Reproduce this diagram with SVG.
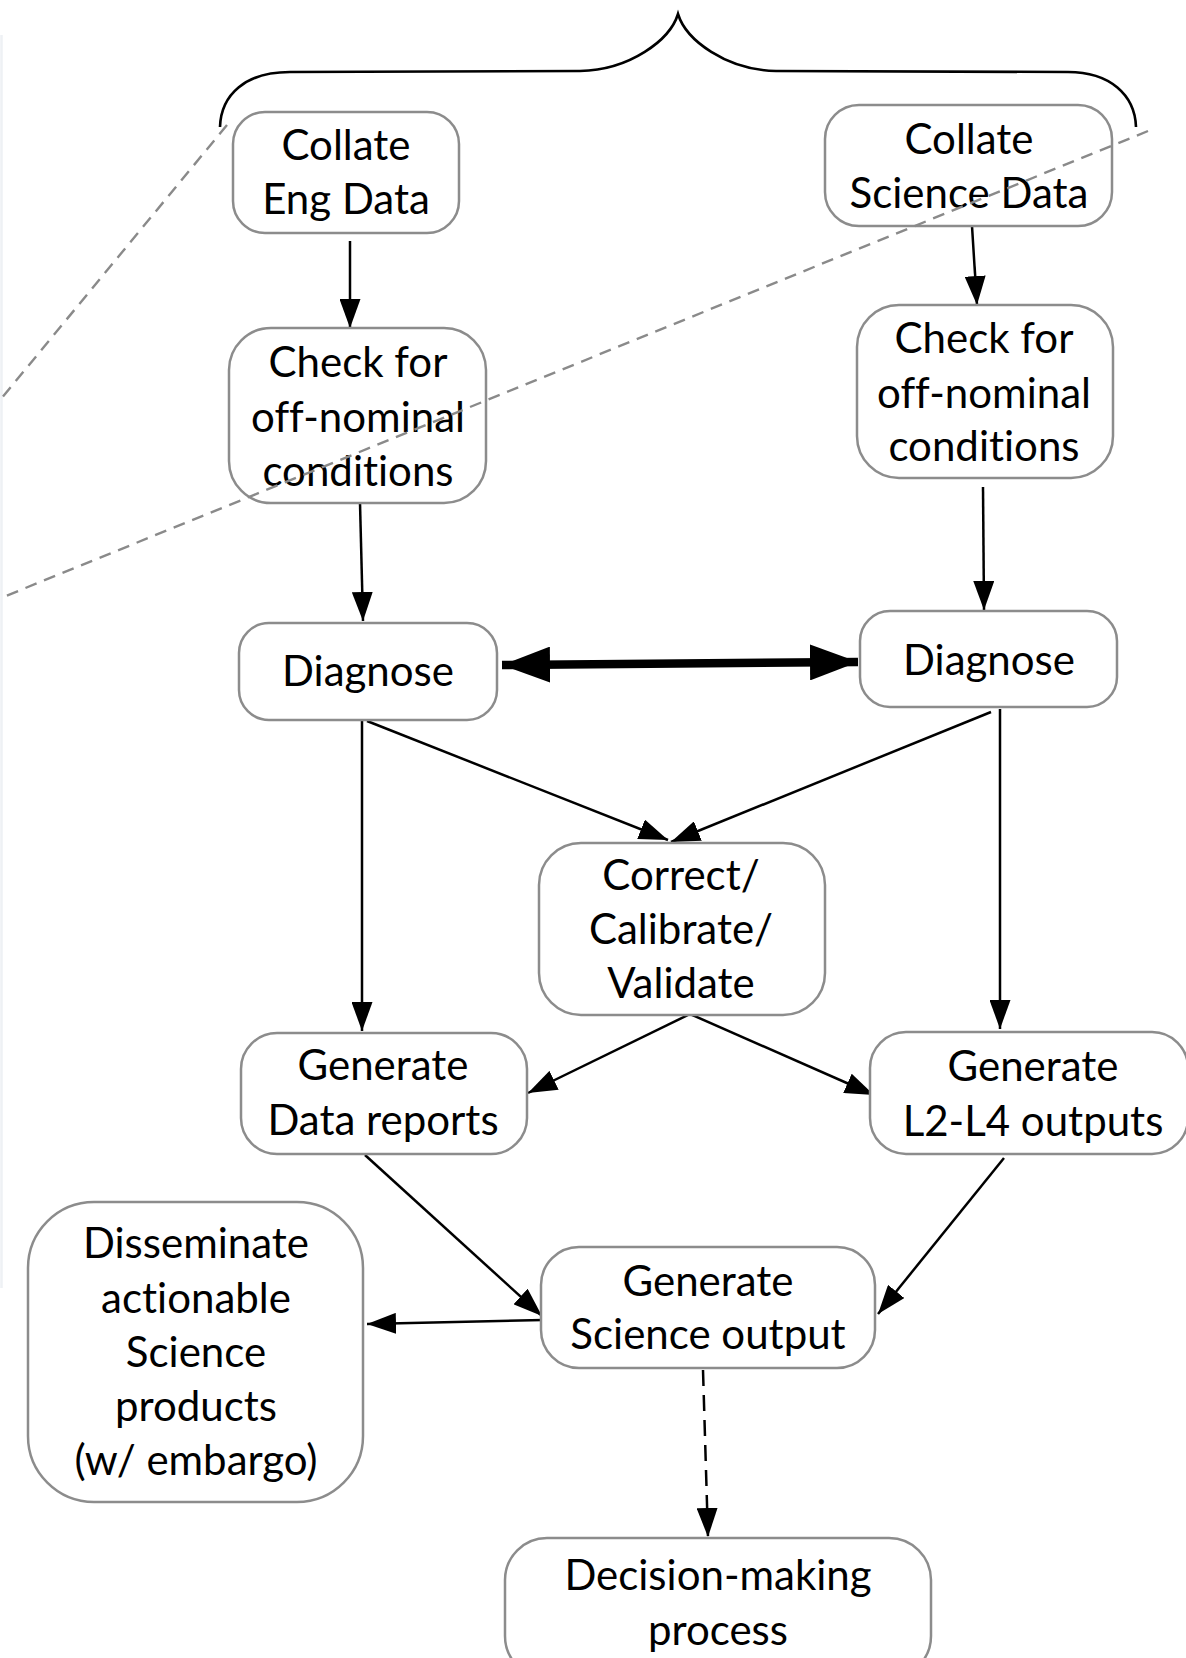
<svg xmlns="http://www.w3.org/2000/svg" width="1186" height="1658" viewBox="0 0 1186 1658">
  <style>
    .box { fill: #ffffff; stroke: #8c8c8c; stroke-width: 2.5; }
    .lbl { font-family: Lato, "Open Sans", "Liberation Sans", sans-serif; font-size: 42px; fill: #000000; text-anchor: middle; font-variant-ligatures: none; font-feature-settings: "liga" 0, "clig" 0; }
    .edge { fill: none; stroke: #000000; stroke-width: 2.5; }
    .edge-dash { fill: none; stroke: #000000; stroke-width: 2.5; stroke-dasharray: 16 9; }
    .thick { fill: none; stroke: #000000; stroke-width: 8.5; }
    .guide { fill: none; stroke: #8a8a8a; stroke-width: 2.4; stroke-dasharray: 12 8; }
    .brace { fill: none; stroke: #000000; stroke-width: 2.6; }
  </style>
  <defs>
    <marker id="head" viewBox="0 0 29 21" refX="29" refY="10.5" markerWidth="29" markerHeight="21" markerUnits="userSpaceOnUse" orient="auto">
      <path d="M0,0 L29,10.5 L0,21 z" fill="#000000"/>
    </marker>
    <marker id="bighead" viewBox="0 0 48 36" refX="48" refY="18" markerWidth="48" markerHeight="36" markerUnits="userSpaceOnUse" orient="auto-start-reverse">
      <path d="M0,0 L48,18 L0,36 z" fill="#000000"/>
    </marker>
  </defs>

  <rect width="1186" height="1658" fill="#ffffff"/>
  <!-- faint frame edge on the left -->
  <line x1="1.5" y1="35" x2="1.5" y2="1288" stroke="#eef1f4" stroke-width="2.5"/>

  <!-- curly brace grouping the two collate steps -->
  <path class="brace" d="M220,127 C221,95 245,72 290,72 L580,71 C630,70 670,40 678,14 C686,40 726,70 776,71 L1068,72 C1110,72 1135,95 1136,127"/>

  <!-- connectors -->
  <g id="connectors">
    <line class="edge" x1="350" y1="241" x2="350" y2="328" marker-end="url(#head)"/>
    <line class="edge" x1="972" y1="226" x2="977" y2="305" marker-end="url(#head)"/>
    <line class="edge" x1="360" y1="503" x2="363" y2="621" marker-end="url(#head)"/>
    <line class="edge" x1="983" y1="487" x2="984" y2="610" marker-end="url(#head)"/>
    <line class="thick" x1="502" y1="665" x2="858" y2="662" marker-start="url(#bighead)" marker-end="url(#bighead)"/>
    <line class="edge" x1="367" y1="721" x2="668" y2="840" marker-end="url(#head)"/>
    <line class="edge" x1="991" y1="712" x2="671" y2="842" marker-end="url(#head)"/>
    <line class="edge" x1="362" y1="721" x2="362" y2="1031" marker-end="url(#head)"/>
    <line class="edge" x1="1000" y1="709" x2="1000" y2="1029" marker-end="url(#head)"/>
    <line class="edge" x1="690" y1="1014" x2="528" y2="1093" marker-end="url(#head)"/>
    <line class="edge" x1="690" y1="1014" x2="874" y2="1095" marker-end="url(#head)"/>
    <line class="edge" x1="365" y1="1155" x2="542" y2="1316" marker-end="url(#head)"/>
    <line class="edge" x1="1004" y1="1158" x2="878" y2="1314" marker-end="url(#head)"/>
    <line class="edge" x1="543" y1="1320" x2="367" y2="1324" marker-end="url(#head)"/>
    <line class="edge-dash" x1="703" y1="1370" x2="708" y2="1537" marker-end="url(#head)"/>
  </g>

  <!-- nodes -->
  <g id="collate-eng">
    <rect class="box" x="233" y="112" width="226" height="121" rx="32"/>
    <text class="lbl" x="346" y="160">Collate</text>
    <text class="lbl" x="346" y="214">Eng Data</text>
  </g>
  <g id="collate-sci">
    <rect class="box" x="825" y="105" width="287" height="121" rx="34"/>
    <text class="lbl" x="969" y="154">Collate</text>
    <text class="lbl" x="969" y="208">Science Data</text>
  </g>
  <g id="check-eng">
    <rect class="box" x="229" y="328" width="257" height="175" rx="42"/>
    <text class="lbl" x="358" y="377">Check for</text>
    <text class="lbl" x="358" y="432">off-nominal</text>
    <text class="lbl" x="358" y="486">conditions</text>
  </g>
  <g id="check-sci">
    <rect class="box" x="857" y="305" width="256" height="173" rx="42"/>
    <text class="lbl" x="984" y="353">Check for</text>
    <text class="lbl" x="984" y="408">off-nominal</text>
    <text class="lbl" x="984" y="461">conditions</text>
  </g>
  <g id="diagnose-eng">
    <rect class="box" x="239" y="623" width="258" height="97" rx="30"/>
    <text class="lbl" x="368" y="686">Diagnose</text>
  </g>
  <g id="diagnose-sci">
    <rect class="box" x="860" y="611" width="257" height="96" rx="30"/>
    <text class="lbl" x="989" y="675">Diagnose</text>
  </g>
  <g id="correct">
    <rect class="box" x="539" y="843" width="286" height="172" rx="42"/>
    <text class="lbl" x="681" y="890">Correct/</text>
    <text class="lbl" x="681" y="944">Calibrate/</text>
    <text class="lbl" x="681" y="998">Validate</text>
  </g>
  <g id="data-reports">
    <rect class="box" x="241" y="1033" width="286" height="121" rx="36"/>
    <text class="lbl" x="383" y="1080">Generate</text>
    <text class="lbl" x="383" y="1135">Data reports</text>
  </g>
  <g id="l2-l4">
    <rect class="box" x="870" y="1032" width="318" height="122" rx="36"/>
    <text class="lbl" x="1033" y="1081">Generate</text>
    <text class="lbl" x="1033" y="1136">L2-L4 outputs</text>
  </g>
  <g id="disseminate">
    <rect class="box" x="28" y="1202" width="335" height="300" rx="66"/>
    <text class="lbl" x="196" y="1258">Disseminate</text>
    <text class="lbl" x="196" y="1313">actionable</text>
    <text class="lbl" x="196" y="1367">Science</text>
    <text class="lbl" x="196" y="1421">products</text>
    <text class="lbl" x="196" y="1475">(w/ embargo)</text>
  </g>
  <g id="science-output">
    <rect class="box" x="541" y="1247" width="334" height="121" rx="38"/>
    <text class="lbl" x="708" y="1296">Generate</text>
    <text class="lbl" x="708" y="1349">Science output</text>
  </g>
  <g id="decision">
    <rect class="box" x="505" y="1538" width="426" height="140" rx="42"/>
    <text class="lbl" x="718" y="1590">Decision-making</text>
    <text class="lbl" x="718" y="1645">process</text>
  </g>

  <!-- grey dashed guide lines, drawn over the boxes -->
  <g id="guides">
    <line class="guide" x1="227" y1="125" x2="-4" y2="405"/>
    <line class="guide" x1="1148" y1="131" x2="-4" y2="600"/>
  </g>
</svg>
